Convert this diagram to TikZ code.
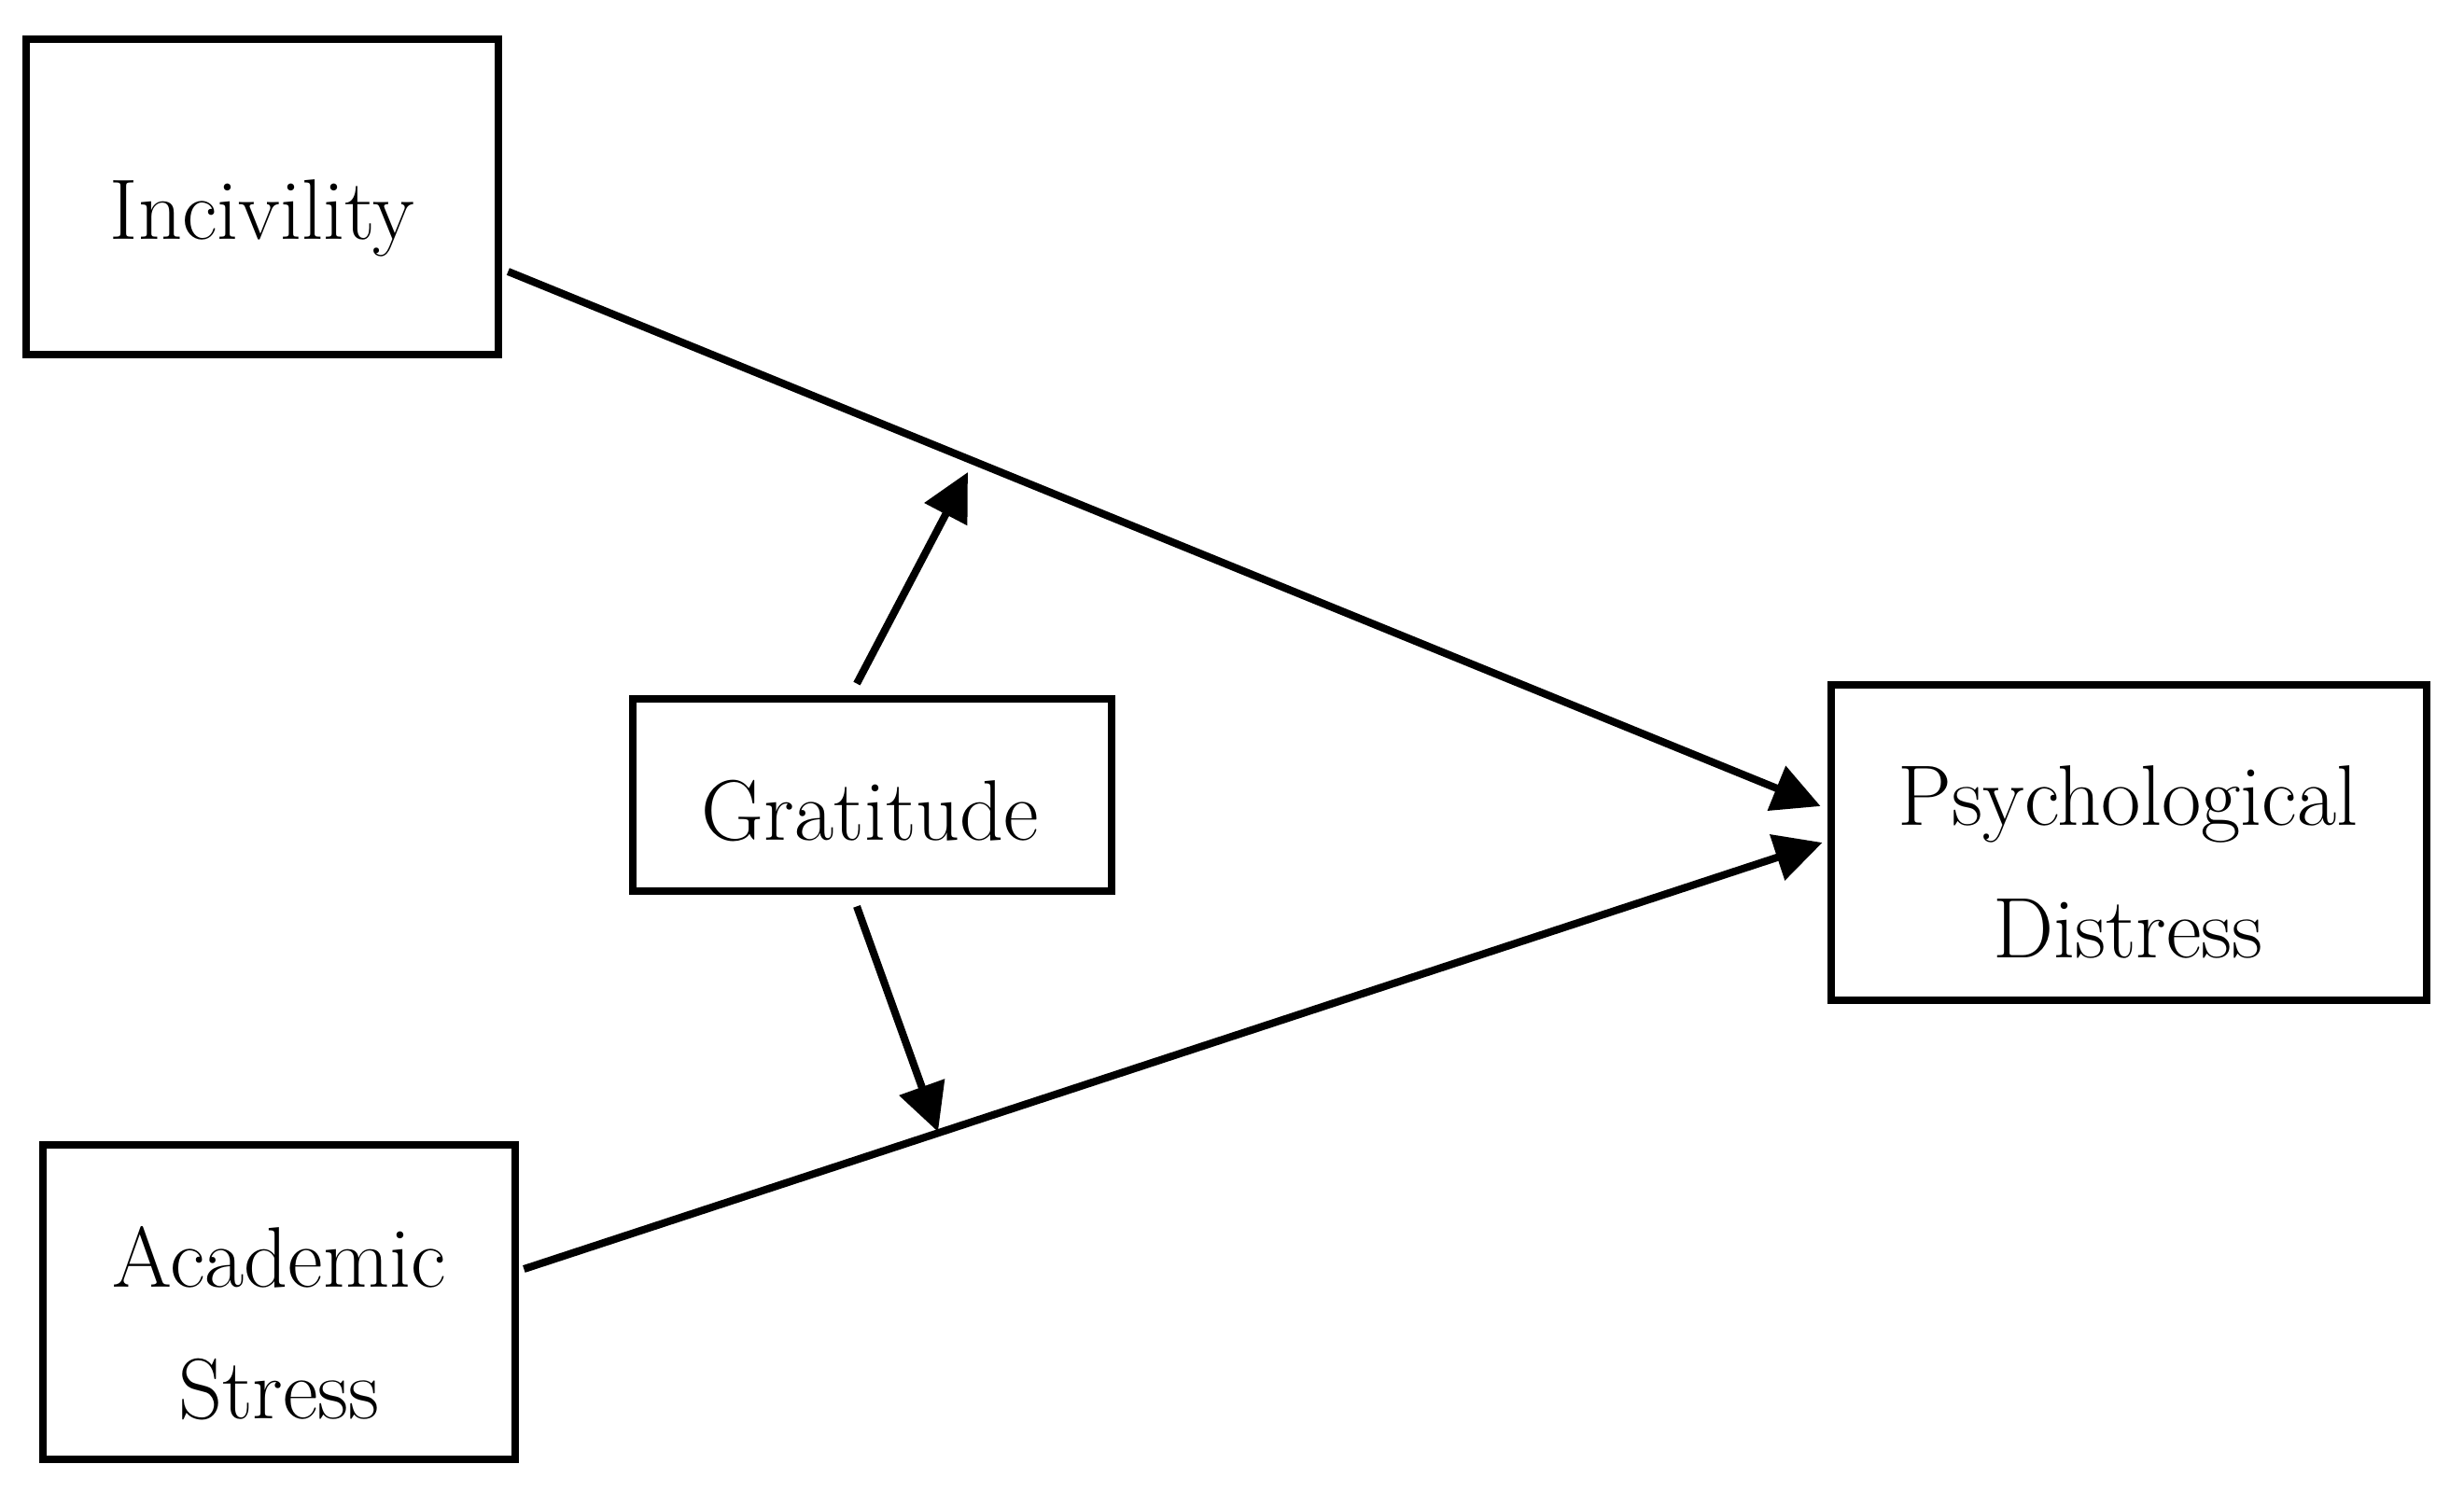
\documentclass[tikz,border=0pt]{standalone}
\usetikzlibrary{arrows.meta}
\begin{document}
\begin{tikzpicture}[
  box/.style={draw=black, line width=2.5pt, inner sep=0pt, rectangle},
  lbl/.style={anchor=base, inner sep=0pt, font=\fontsize{26.2}{31}\selectfont},
  conn/.style={line width=2.3pt, -{Triangle[length=5.1mm,width=5mm]}}
]
\useasboundingbox (0,0) rectangle (26.4,-15.99);
\fill[white] (0,0) rectangle (26.4,-15.99);

% boxes
\node[box, minimum width=5.06cm, minimum height=3.38cm] (inc)  at (2.81,-2.11) {};
\node[box, minimum width=5.13cm, minimum height=2.06cm] (grat) at (9.345,-8.52) {};
\node[box, minimum width=6.38cm, minimum height=3.38cm] (psy)  at (22.81,-9.03) {};
\node[box, minimum width=5.06cm, minimum height=3.37cm] (acad) at (2.99,-13.955) {};

% labels
\node[lbl] (incT)   at ([yshift=-0.45cm]inc.center) {Incivility};
\node[lbl] (gratT)  at ([xshift=-0.02cm,yshift=-0.48cm]grat.center) {Gratitude};
\node[lbl] (psyT1)  at ([xshift=-0.01cm,yshift=0.19cm]psy.center) {Psychological};
\node[lbl] (psyT2)  at ([xshift=-0.01cm,yshift=-1.23cm]psy.center) {Distress};
\node[lbl] (acadT1) at ([yshift=0.165cm]acad.center) {Academic};
\node[lbl] (acadT2) at ([yshift=-1.245cm]acad.center) {Stress};

% moderation targets
\coordinate (m1) at (10.37,-5.06);
\coordinate (m2) at (10.05,-12.13);

% connectors
\draw[conn] ([xshift=0.06cm,yshift=-0.80cm]inc.east) -- ([xshift=-0.07cm,yshift=0.39cm]psy.west);
\draw[conn] ([xshift=0.05cm,yshift=0.355cm]acad.east) -- ([xshift=-0.05cm]psy.west);
\draw[conn] ([xshift=-0.165cm,yshift=0.12cm]grat.north) -- (m1);
\draw[conn] ([xshift=-0.165cm,yshift=-0.12cm]grat.south) -- (m2);
\end{tikzpicture}
\end{document}
